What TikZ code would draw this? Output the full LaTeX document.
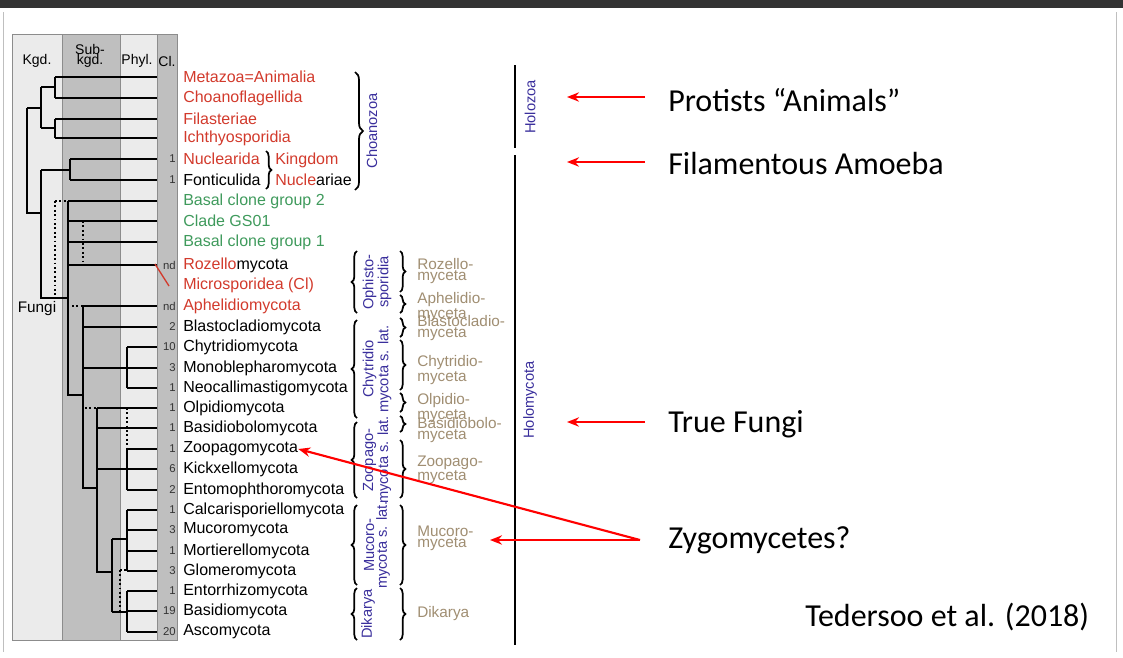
\documentclass[tikz,border=0pt]{standalone}
\usepackage{fontspec}
\setmainfont{Liberation Sans}
\newfontfamily\slidefont{Carlito}
\usetikzlibrary{decorations.pathreplacing,arrows.meta}
\definecolor{taxred}{HTML}{D23A2C}
\definecolor{taxgreen}{HTML}{3F9A5C}
\definecolor{taxblue}{HTML}{3A2F9C}
\definecolor{taxtan}{HTML}{A08E72}
\tikzset{
  tree/.style={line width=1.3pt},
  dots/.style={line width=1.3pt, dotted},
  taxon/.style={anchor=west, inner sep=0pt, font=\fontsize{12}{13}\selectfont},
  cnt/.style={anchor=east, inner sep=0pt, font=\fontsize{8.5}{9}\selectfont, text=black!80},
  brc/.style={decorate, decoration={brace, amplitude=4pt}, line width=1.3pt},
  rank/.style={rotate=90, align=center, text=taxblue, inner sep=0pt,
    font=\fontsize{11}{9.5}\selectfont},
  cls/.style={anchor=west, align=left, text=taxtan, inner sep=0pt,
    font=\fontsize{11.5}{8}\selectfont},
  hdr/.style={font=\fontsize{10.5}{8}\selectfont, align=center},
  pointer/.style={draw=red, line width=1.6pt, -{Stealth[length=9pt,width=7pt]}},
  slide/.style={anchor=west, inner sep=0pt, font=\slidefont\fontsize{24}{26}\selectfont}
}
\begin{document}
\begin{tikzpicture}[x=0.75pt, y=-0.75pt]
    \useasboundingbox (0,0) rectangle (1123,657);
    \fill[black!80] (0,0) rectangle (1123,8);
    \draw[black!25] (3,12) -- (3,652) (1116,12) -- (1116,652);

    % rank columns
    \fill[black!8] (12,34) rectangle (62,640);
    \fill[black!25] (62,34) rectangle (120,640);
    \fill[black!8] (120,34) rectangle (157,640);
    \fill[black!25] (157,34) rectangle (177,640);
    \draw[black!45] (12,34) rectangle (177,640) (62,34) -- (62,640)
      (120,34) -- (120,640) (157,34) -- (157,640);
    \node[hdr] (kgd) at (37,61) {Kgd.};
    \node[hdr] (subkgd) at (90,56) {Sub-\\kgd.};
    \node[hdr] (phyl) at (137,61) {Phyl.};
    \node[hdr] (cl) at (167,61) {Cl.};
    \node[font=\fontsize{11.5}{8}\selectfont] (fungi) at (37,309) {Fungi};

    % leaves: start x / y
    \foreach \x/\y in {55/77, 55/98, 55/119, 55/138, 70/159, 70/180,
      68/201, 68/221, 68/242, 68/265, 83/306, 83/327, 127/347, 83/368,
      127/388, 97/408, 97/428, 127/449, 97/469, 127/490, 127/510,
      127/530, 127/551, 127/571, 127/591, 127/611, 127/632} {
      \draw[tree] (\x,\y) -- (157,\y) ;
    } ;

    % inner branches
    \draw[tree] (55,77) -- (55,98) (55,119) -- (55,138)
      (41,87) -- (55,87) (41,128) -- (55,128) (41,87) -- (41,128)
      (27,108) -- (41,108) (27,108) -- (27,213) -- (41,213)
      (41,170) -- (70,170) (70,159) -- (70,180) (41,170) -- (41,298) -- (68,298)
      (68,201) -- (68,395) -- (83,395) (83,306) -- (83,488) -- (97,488)
      (127,347) -- (127,388) (97,408) -- (97,572) -- (112,572)
      (127,449) -- (127,490) (112,539) -- (112,612)
      (112,539) -- (127,539) (127,510) -- (127,571)
      (112,612) -- (127,612) (127,591) -- (127,632);
    \draw[dots] (55,201) -- (68,201) (55,201) -- (55,298)
      (83,221) -- (83,265) (72,306) -- (83,306)
      (85,408) -- (97,408) (127,408) -- (127,449)
      (120,570) -- (127,570) (120,570) -- (120,612);
    \draw[taxred, line width=1pt] (155,264) -- (169,286);

    % taxa
    \node[taxon, text=taxred] (metazoa) at (183,77) {Metazoa=Animalia};
    \node[taxon, text=taxred] (choano) at (183,98) {Choanoflagellida};
    \node[taxon, text=taxred] (filast) at (183,119) {Filasteriae};
    \node[taxon, text=taxred] (ichthyo) at (183,138) {Ichthyosporidia};
    \node[taxon, text=taxred] (nuclearida) at (183,159) {Nuclearida};
    \node[taxon] (fonticulida) at (183,180) {Fonticulida};
    \node[taxon, text=taxgreen] (basal2) at (183,201) {Basal clone group 2};
    \node[taxon, text=taxgreen] (gs01) at (183,221) {Clade GS01};
    \node[taxon, text=taxgreen] (basal1) at (183,242) {Basal clone group 1};
    \node[taxon] (rozello) at (183,265) {\textcolor{taxred}{Rozello}mycota};
    \node[taxon, text=taxred] (microspor) at (183,285) {Microsporidea (Cl)};
    \node[taxon, text=taxred] (aphelidio) at (183,306) {Aphelidiomycota};
    \foreach \n/\y/\t in {blasto/327/Blastocladiomycota, chytridio/347/Chytridiomycota,
      monoble/368/Monoblepharomycota, neocalli/388/Neocallimastigomycota,
      olpidio/408/Olpidiomycota, basidiobolo/428/Basidiobolomycota,
      zoopago/449/Zoopagomycota, kickxello/469/Kickxellomycota,
      entomo/490/Entomophthoromycota, calcaris/510/Calcarisporiellomycota,
      mucoro/530/Mucoromycota, mortier/551/Mortierellomycota,
      glomero/571/Glomeromycota, entorrhizo/591/Entorrhizomycota,
      basidio/611/Basidiomycota, asco/632/Ascomycota} {
      \node[taxon] (\n) at (183,\y) {\t} ;
    } ;
    \foreach \y/\c in {159/1, 180/1, 265/nd, 306/nd, 327/2, 347/10, 368/3,
      388/1, 408/1, 428/1, 449/1, 469/6, 490/2, 510/1, 530/3, 551/1,
      571/3, 591/1, 611/19, 632/20} {
      \node[cnt] at (176,\y) {\c} ;
    } ;

    \draw[brc] (266,151) -- (266,189);
    \node[taxon, text=taxred] (kingdom) at (275,160) {Kingdom};
    \node[taxon] (nucleariae) at (275,180) {\textcolor{taxred}{Nucle}ariae};

    % rank braces
    \draw[brc, decoration={amplitude=6pt}] (355,72) -- (355,190);
    \node[rank] (choanozoa) at (372,131) {Choanozoa};
    \foreach \a/\b in {313/251, 418/320, 498/422, 585/505, 640/588} {
      \draw[brc] (357,\a) -- (357,\b) ;
    } ;
    \node[rank] (ophisto) at (377,282) {Ophisto-\\sporidia};
    \node[rank] (chytrsl) at (377,369) {Chytridio\\mycota s. lat.};
    \node[rank] (zoosl) at (377,460) {Zoopago-\\mycota s. lat.};
    \node[rank] (mucsl) at (377,545) {Mucoro-\\mycota s. lat.};
    \node[rank] (dikrank) at (368,614) {Dikarya};
    \foreach \a/\b in {251/292, 295/313, 318/337, 340/390, 393/412, 416/432,
      440/498, 505/585, 588/640} {
      \draw[brc] (400,\a) -- (400,\b) ;
    } ;
    \node[cls] at (417,271) {Rozello-\\myceta};
    \node[cls] at (417,307) {Aphelidio-\\myceta};
    \node[cls] at (417,328) {Blastocladio-\\myceta};
    \node[cls] at (417,370) {Chytridio-\\myceta};
    \node[cls] at (417,408) {Olpidio-\\myceta};
    \node[cls] at (417,430) {Basidiobolo-\\myceta};
    \node[cls] at (417,470) {Zoopago-\\myceta};
    \node[cls] (mucoromyceta) at (417,538) {Mucoro-\\myceta};
    \node[cls] at (417,614) {Dikarya};

    \draw[line width=1.3pt] (515,65) -- (515,148) (515,155) -- (515,645);
    \node[rank] (holozoa) at (530,107) {Holozoa};
    \node[rank] (holomycota) at (530,400) {Holomycota};

    % slide notes
    \node[slide] (protists) at (668,100) {Protists “Animals”};
    \node[slide] (amoeba) at (668,164) {Filamentous Amoeba};
    \node[slide] (truefungi) at (668,424) {True Fungi};
    \node[slide] (zygo) at (668,540) {Zygomycetes?};
    \node[slide] (tedersoo) at (805,617) {Tedersoo et al. (2018)};
    \coordinate (zygotail) at (640,540);
    \draw[pointer] (645,97) -- (567,97);
    \draw[pointer] (645,162) -- (567,162);
    \draw[pointer] (645,422) -- (567,422);
    \draw[pointer] (zygotail) -- (zoopago.east);
    \draw[pointer] (zygotail) -- (490,540);
\end{tikzpicture}
\end{document}
